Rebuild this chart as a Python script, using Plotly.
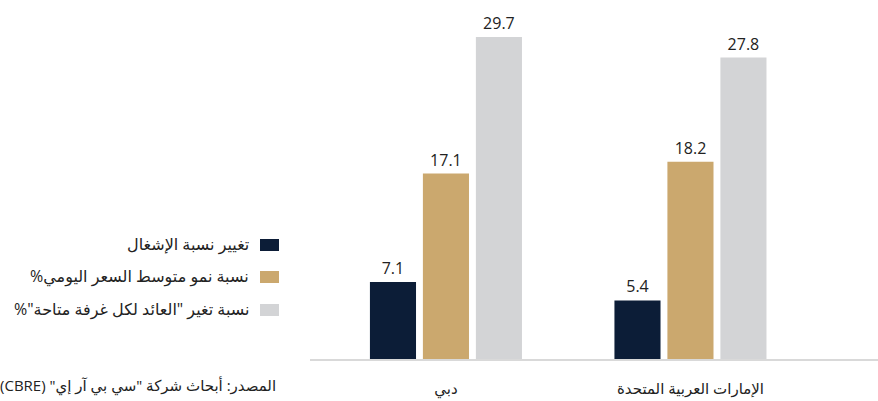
import plotly.graph_objects as go

# categories and series values
categories = ["دبي", "الإمارات العربية المتحدة"]
occupancy_change = [7.1, 5.4]
adr_growth = [17.1, 18.2]
revpar_change = [29.7, 27.8]

series_names = [
    "تغيير نسبة الإشغال",
    "نسبة نمو متوسط السعر اليومي%",
    "نسبة تغير \"العائد لكل غرفة متاحة\"%",
]
source_text = "المصدر: أبحاث شركة \"سي بي آر إي\" (CBRE)"

colors = ["#0c1d37", "#cba86e", "#d3d4d6"]
FONT = "Open Sans, DejaVu Sans, sans-serif"
W, H = 878, 401
L, R, T, B = 310, 0, 12, 42


def rtl(s):
    # right-to-left embedding so punctuation lands where it does in Arabic
    return "\u202b" + s + "\u202c"


def px(x):
    return (x - L) / (W - L - R)


def py(y):
    return 1 - (y - T) / (H - T - B)


fig = go.Figure()
for name, vals, color in zip(series_names, [occupancy_change, adr_growth, revpar_change], colors):
    fig.add_trace(
        go.Bar(
            x=categories,
            y=vals,
            name=name,
            marker=dict(color=color, line=dict(width=0)),
            text=[f"{v:.1f}" for v in vals],
            textposition="outside",
            textfont=dict(size=16, color="#222222", family=FONT),
            cliponaxis=False,
            showlegend=False,
        )
    )

# legend drawn by hand: marker sits to the right of the text (RTL)
legend_y = [245, 277, 310]
for name, color, yy in zip(series_names, colors, legend_y):
    fig.add_shape(
        type="rect", xref="paper", yref="paper",
        x0=px(260), x1=px(279), y0=py(yy - 6), y1=py(yy + 6),
        fillcolor=color, line=dict(width=0),
    )
    fig.add_annotation(
        text=rtl(name), xref="paper", yref="paper",
        x=px(251), y=py(yy - 1),
        xanchor="right", yanchor="middle", showarrow=False,
        font=dict(size=16, color="#222222", family=FONT),
    )

fig.add_annotation(
    text=rtl(source_text), xref="paper", yref="paper",
    x=px(278), y=py(385),
    xanchor="right", yanchor="middle", showarrow=False,
    font=dict(size=15, color="#222222", family=FONT),
)

fig.update_layout(
    width=W,
    height=H,
    margin=dict(l=L, r=R, t=T, b=B, autoexpand=False),
    barmode="group",
    bargap=0.35,
    bargroupgap=0.13,
    plot_bgcolor="white",
    paper_bgcolor="white",
    font=dict(family=FONT, color="#222222"),
    xaxis=dict(
        range=[-0.556, 1.767],
        showline=True,
        linecolor="#d9d9d9",
        linewidth=1.5,
        showgrid=False,
        zeroline=False,
        ticks="",
        ticklabelstandoff=15,
        tickfont=dict(size=15, color="#222222", family=FONT),
    ),
    yaxis=dict(
        range=[0, 32],
        visible=False,
        showgrid=False,
        zeroline=False,
    ),
)

fig.write_html(
    "out.html",
    config={"displayModeBar": False},
    post_script="document.body.style.margin='0';",
)
